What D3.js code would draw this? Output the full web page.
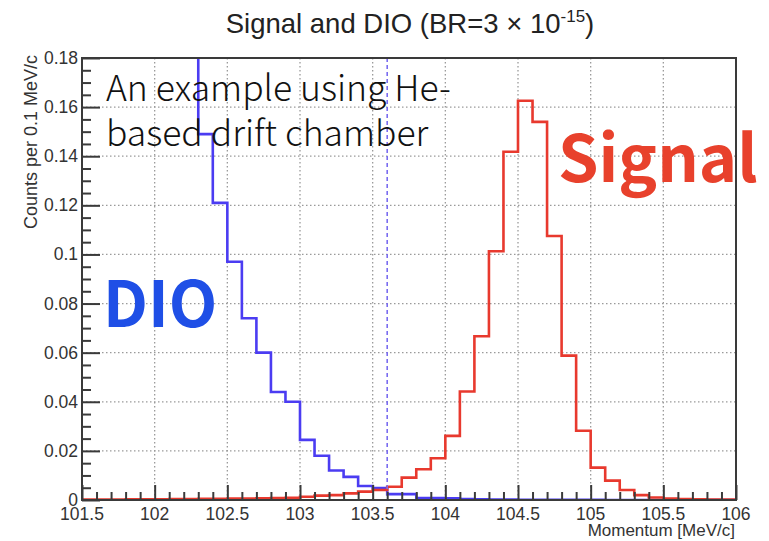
<!DOCTYPE html>
<html>
<head>
<meta charset="utf-8">
<script src="https://cdn.jsdelivr.net/npm/d3@7"></script>
<style>
  body { margin: 0; background: #fff; }
  svg { display: block; }
</style>
</head>
<body>
<svg class="chart"></svg>
<script>
// bin left edges, 0.1 MeV/c wide
var binStart = 101.5;
var binWidth = 0.1;

var dioCounts = [0.69, 0.58, 0.49, 0.41, 0.34, 0.28, 0.23, 0.185, 0.149, 0.121,
    0.097, 0.074, 0.060, 0.044, 0.040, 0.0245, 0.018, 0.012, 0.0094, 0.0057,
    0.0049, 0.0024, 0.0024, 0.0008, 0.0008, 0.0007, 0.0004, 0.0003, 0.0002, 0.0002,
    0.0001, 0.0001, 0.0001, 0.0001, 0.0001, 0.0001, 0, 0, 0, 0,
    0, 0, 0, 0, 0];

var signalCounts = [0.0002, 0.0002, 0.0002, 0.0003, 0.0003, 0.0003, 0.0004, 0.0004, 0.0005, 0.0005,
    0.0006, 0.0006, 0.0007, 0.0008, 0.0009, 0.0013, 0.0018, 0.002, 0.0027, 0.0034,
    0.0041, 0.0054, 0.0091, 0.0125, 0.017, 0.0261, 0.0442, 0.0667, 0.1013, 0.1418,
    0.1626, 0.154, 0.1075, 0.0588, 0.0282, 0.0132, 0.0079, 0.0041, 0.002, 0.001,
    0.0006, 0.0004, 0.0003, 0.0002, 0.0002];

var xTicks = [101.5, 102, 102.5, 103, 103.5, 104, 104.5, 105, 105.5, 106];
var yTicks = [0, 0.02, 0.04, 0.06, 0.08, 0.1, 0.12, 0.14, 0.16, 0.18];
var cutValue = 103.6;

var width = 769;
var height = 541;
var plot = { left: 82, right: 736, top: 58, bottom: 500 };

var svg = d3.select(".chart")
    .attr("width", width)
    .attr("height", height);

var x = d3.scaleLinear().domain([101.5, 106]).range([plot.left, plot.right]);
var y = d3.scaleLinear().domain([0, 0.18]).range([plot.bottom, plot.top]);

svg.append("defs").append("clipPath")
    .attr("id", "plot-clip")
    .append("rect")
    .attr("x", plot.left)
    .attr("y", plot.top)
    .attr("width", plot.right - plot.left)
    .attr("height", plot.bottom - plot.top);

// dotted grid
var grid = svg.append("g").attr("class", "grid");
grid.selectAll(".gx")
    .data(xTicks.slice(1, -1))
    .enter().append("line")
    .attr("x1", function(d) { return x(d); })
    .attr("x2", function(d) { return x(d); })
    .attr("y1", plot.top)
    .attr("y2", plot.bottom);
grid.selectAll(".gy")
    .data(yTicks.slice(1))
    .enter().append("line")
    .attr("x1", plot.left)
    .attr("x2", plot.right)
    .attr("y1", function(d) { return y(d); })
    .attr("y2", function(d) { return y(d); });
grid.selectAll("line")
    .attr("stroke", "#9a9a9a")
    .attr("stroke-width", 1.3)
    .attr("stroke-dasharray", "1.5,2.5");

function histPoints(counts) {
    var pts = counts.map(function(v, i) {
        return [binStart + i * binWidth, v];
    });
    pts.push([binStart + counts.length * binWidth, counts[counts.length - 1]]);
    return pts;
}

var step = d3.line()
    .x(function(d) { return x(d[0]); })
    .y(function(d) { return y(d[1]); })
    .curve(d3.curveStepAfter);

var hists = svg.append("g").attr("clip-path", "url(#plot-clip)");

hists.append("path")
    .attr("d", step(histPoints(dioCounts)))
    .attr("fill", "none")
    .attr("stroke", "#4b3cf2")
    .attr("stroke-width", 2.6);

hists.append("path")
    .attr("d", step(histPoints(signalCounts)))
    .attr("fill", "none")
    .attr("stroke", "#e8392e")
    .attr("stroke-width", 2.6);

// momentum cut
svg.append("line")
    .attr("x1", x(cutValue))
    .attr("x2", x(cutValue))
    .attr("y1", plot.top)
    .attr("y2", plot.bottom)
    .attr("stroke", "#7a6cf0")
    .attr("stroke-width", 1.6)
    .attr("stroke-dasharray", "4,3");

// frame
svg.append("rect")
    .attr("x", plot.left)
    .attr("y", plot.top)
    .attr("width", plot.right - plot.left)
    .attr("height", plot.bottom - plot.top)
    .attr("fill", "none")
    .attr("stroke", "#3a3a3a")
    .attr("stroke-width", 2);

// axes
var xAxis = d3.axisBottom(x)
    .tickValues(d3.range(0, 46).map(function(i) { return 101.5 + i * 0.1; }))
    .tickSize(0)
    .tickFormat("");

var xAxisG = svg.append("g")
    .attr("transform", "translate(0," + plot.bottom + ")")
    .call(xAxis);
xAxisG.select(".domain").remove();
xAxisG.selectAll(".tick line")
    .attr("y2", function(d, i) { return i % 5 === 0 ? -15 : -8; })
    .attr("stroke", "#3a3a3a")
    .attr("stroke-width", 2);

svg.append("g").selectAll("text")
    .data(xTicks)
    .enter().append("text")
    .attr("x", function(d) { return x(d); })
    .attr("y", 520)
    .attr("text-anchor", "middle")
    .attr("font-family", "Liberation Sans, Arial, sans-serif")
    .attr("font-size", 17.5)
    .attr("fill", "#333")
    .text(function(d) { return d3.format("")(d); });

var yAxis = d3.axisLeft(y)
    .tickValues(d3.range(0, 37).map(function(i) { return i * 0.005; }))
    .tickSize(0)
    .tickFormat("");

var yAxisG = svg.append("g")
    .attr("transform", "translate(" + plot.left + ",0)")
    .call(yAxis);
yAxisG.select(".domain").remove();
yAxisG.selectAll(".tick line")
    .attr("x2", function(d, i) { return i % 4 === 0 ? 18 : 9; })
    .attr("stroke", "#3a3a3a")
    .attr("stroke-width", 2);

svg.append("g").selectAll("text")
    .data(yTicks)
    .enter().append("text")
    .attr("x", 78)
    .attr("y", function(d) { return y(d) + 6; })
    .attr("text-anchor", "end")
    .attr("font-family", "Liberation Sans, Arial, sans-serif")
    .attr("font-size", 17.5)
    .attr("fill", "#333")
    .text(function(d) { return d3.format("")(d); });

// axis titles
svg.append("text")
    .attr("x", 735)
    .attr("y", 536)
    .attr("text-anchor", "end")
    .attr("font-family", "Liberation Sans, Arial, sans-serif")
    .attr("font-size", 17)
    .attr("fill", "#333")
    .text("Momentum [MeV/c]");

svg.append("text")
    .attr("transform", "translate(37," + (plot.top - 3) + ") rotate(-90)")
    .attr("text-anchor", "end")
    .attr("font-family", "Liberation Sans, Arial, sans-serif")
    .attr("font-size", 18)
    .attr("fill", "#333")
    .text("Counts per 0.1 MeV/c");

// title
var title = svg.append("text")
    .attr("x", 410)
    .attr("y", 33)
    .attr("text-anchor", "middle")
    .attr("font-family", "Liberation Sans, Arial, sans-serif")
    .attr("font-size", 27.5)
    .attr("fill", "#222");
title.append("tspan").text("Signal and DIO (BR=3 \u00d7 10");
title.append("tspan").attr("dy", -11).attr("font-size", 17).text("-15");
title.append("tspan").attr("dy", 11).text(")");

// overlay notes
var note = svg.append("text")
    .attr("font-family", "Noto Sans CJK SC, Noto Sans, sans-serif")
    .attr("font-weight", 300)
    .attr("font-size", 35.5)
    .attr("fill", "#111");
note.append("tspan").attr("x", 106).attr("y", 101).text("An example using He-");
note.append("tspan").attr("x", 106).attr("y", 146).text("based drift chamber");

svg.append("text")
    .attr("x", 103)
    .attr("y", 327)
    .attr("font-family", "Noto Sans CJK SC, Noto Sans, sans-serif")
    .attr("font-weight", "bold")
    .attr("font-size", 63)
    .attr("fill", "#1f4fe6")
    .text("DIO");

svg.append("text")
    .attr("x", 558)
    .attr("y", 182)
    .attr("font-family", "Noto Sans CJK SC, Noto Sans, sans-serif")
    .attr("font-weight", "bold")
    .attr("font-size", 65)
    .attr("fill", "#e8412c")
    .text("Signal");
</script>
</body>
</html>
